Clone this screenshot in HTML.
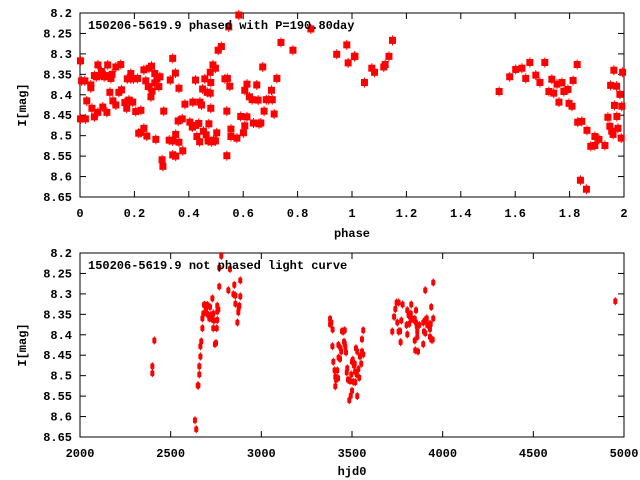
<!DOCTYPE html>
<html><head><meta charset="utf-8"><style>
html,body{margin:0;padding:0;background:#fff}
svg{display:block}
text{font-family:"Liberation Mono","DejaVu Sans Mono",monospace;font-weight:bold;font-size:12px;fill:#000}
</style></head><body>
<svg id="chart" width="640" height="480" viewBox="0 0 640 480" xmlns="http://www.w3.org/2000/svg"></svg>
<script>
const phaseVals=[0.000,0.004,0.016,0.000,0.018,0.023,0.038,0.038,0.042,0.051,0.051,0.058,0.064,0.064,0.070,0.077,0.082,0.087,0.092,0.097,0.100,0.108,0.112,0.116,0.119,0.130,0.130,0.141,0.148,0.151,0.163,0.170,0.172,0.178,0.185,0.185,0.192,0.195,0.203,0.210,0.214,0.222,0.222,0.233,0.233,0.240,0.244,0.249,0.252,0.259,0.261,0.263,0.273,0.273,0.277,0.281,0.288,0.292,0.300,0.303,0.306,0.326,0.330,0.339,0.339,0.339,0.349,0.350,0.350,0.362,0.362,0.376,0.384,0.359,0.374,0.402,0.411,0.413,0.423,0.423,0.428,0.435,0.438,0.439,0.445,0.449,0.452,0.457,0.462,0.466,0.472,0.477,0.479,0.479,0.477,0.487,0.489,0.496,0.501,0.506,0.518,0.531,0.538,0.538,0.540,0.545,0.549,0.553,0.553,0.575,0.582,0.589,0.599,0.604,0.604,0.612,0.612,0.621,0.631,0.636,0.648,0.653,0.656,0.663,0.670,0.675,0.683,0.692,0.702,0.705,0.712,0.722,0.737,0.781,0.847,0.942,0.979,0.984,1.009,0.469,0.482,0.496,
1.007,1.044,1.071,1.081,1.115,1.120,1.134,1.147,1.539,1.578,1.600,1.623,1.637,1.652,1.674,1.689,1.707,1.722,1.733,1.740,1.752,1.759,1.770,1.777,1.792,1.796,1.807,1.811,1.826,1.828,1.843,1.838,1.860,1.862,1.876,1.891,1.891,1.906,1.928,1.939,1.946,1.953,1.958,1.961,1.949,1.971,1.972,1.963,1.976,1.983,1.988,1.990,1.993];
const phaseMags=[8.317,8.366,8.366,8.459,8.459,8.415,8.376,8.383,8.433,8.454,8.353,8.356,8.327,8.443,8.353,8.343,8.430,8.356,8.353,8.443,8.327,8.394,8.360,8.350,8.415,8.332,8.425,8.394,8.326,8.388,8.419,8.433,8.361,8.413,8.348,8.361,8.418,8.361,8.441,8.360,8.494,8.438,8.492,8.339,8.482,8.366,8.501,8.380,8.335,8.405,8.330,8.391,8.348,8.371,8.509,8.361,8.380,8.356,8.559,8.575,8.440,8.511,8.364,8.311,8.513,8.547,8.347,8.497,8.550,8.516,8.384,8.537,8.423,8.464,8.459,8.467,8.479,8.418,8.475,8.364,8.502,8.470,8.515,8.418,8.425,8.386,8.489,8.361,8.498,8.394,8.471,8.396,8.370,8.433,8.345,8.327,8.511,8.335,8.493,8.291,8.282,8.361,8.440,8.549,8.360,8.234,8.379,8.484,8.502,8.506,8.205,8.453,8.493,8.389,8.476,8.374,8.454,8.405,8.412,8.469,8.376,8.413,8.471,8.469,8.332,8.440,8.412,8.412,8.389,8.412,8.447,8.360,8.272,8.291,8.239,8.301,8.278,8.322,8.306,8.513,8.515,8.513,
8.306,8.370,8.335,8.345,8.332,8.326,8.306,8.267,8.392,8.356,8.338,8.335,8.360,8.321,8.352,8.370,8.321,8.392,8.362,8.396,8.374,8.418,8.370,8.392,8.387,8.421,8.428,8.365,8.326,8.467,8.465,8.609,8.631,8.487,8.526,8.524,8.502,8.509,8.524,8.455,8.477,8.489,8.497,8.340,8.377,8.379,8.453,8.426,8.482,8.399,8.506,8.428,8.345];
const hjdVals=[2410,2399,2399,2634,2641,2649,2653,2658,2658,2664,2664,2669,2675,2675,2680,2684,2689,2695,2699,2702,2708,2713,2717,2721,2726,2730,2735,2735,2739,2744,2750,2754,2757,2757,2757,2763,2768,2768,2779,2818,2827,2846,2851,2857,2857,2868,2873,2875,2879,2884,2884,
3379,3386,3379,3393,3392,3397,3404,3408,3412,3408,3419,3423,3425,3426,3434,3437,3441,3445,3452,3456,3460,3460,3463,3467,3471,3474,3478,3485,3489,3493,3496,3500,3500,3504,3507,3511,3515,3517,3518,3522,3526,3529,3529,3535,3540,3544,3551,3555,3555,3562,3562,
3722,3732,3739,3746,3750,3757,3757,3765,3768,3772,3779,3801,3805,3805,3812,3816,3820,3824,3827,3831,3838,3846,3846,3849,3853,3853,3857,3860,3860,3864,3871,3893,3893,3897,3901,3904,3904,3912,3915,3926,3930,3930,3934,3937,3937,3945,3948,3948,4952];
const hjdMags=[8.414,8.477,8.494,8.609,8.631,8.524,8.524,8.497,8.477,8.453,8.428,8.416,8.384,8.360,8.348,8.327,8.327,8.335,8.348,8.327,8.352,8.360,8.332,8.352,8.361,8.311,8.348,8.384,8.365,8.423,8.420,8.384,8.329,8.343,8.364,8.338,8.282,8.236,8.207,8.291,8.239,8.301,8.278,8.304,8.324,8.370,8.345,8.335,8.329,8.267,8.306,
8.361,8.370,8.374,8.387,8.428,8.466,8.487,8.503,8.510,8.526,8.487,8.506,8.425,8.456,8.459,8.433,8.441,8.391,8.392,8.417,8.389,8.422,8.430,8.443,8.492,8.482,8.510,8.560,8.513,8.549,8.497,8.466,8.537,8.461,8.515,8.475,8.471,8.490,8.516,8.433,8.497,8.550,8.441,8.484,8.505,8.453,8.471,8.441,8.411,8.389,8.448,
8.392,8.356,8.337,8.321,8.370,8.321,8.392,8.391,8.418,8.365,8.326,8.376,8.340,8.399,8.352,8.373,8.356,8.348,8.326,8.361,8.363,8.361,8.414,8.438,8.340,8.370,8.379,8.392,8.405,8.441,8.376,8.370,8.423,8.392,8.365,8.291,8.396,8.360,8.376,8.374,8.386,8.405,8.374,8.332,8.412,8.412,8.360,8.272,8.318];
const magTicks=["8.2","8.25","8.3","8.35","8.4","8.45","8.5","8.55","8.6","8.65"];
const phaseTicks=["0","0.2","0.4","0.6","0.8","1","1.2","1.4","1.6","1.8","2"];
const hjdTicks=["2000","2500","3000","3500","4000","4500","5000"];

const NS="http://www.w3.org/2000/svg";
const svg=document.getElementById('chart');
function mk(tag,attrs,parent){const e=document.createElementNS(NS,tag);for(const k in attrs)e.setAttribute(k,attrs[k]);(parent||svg).appendChild(e);return e;}
const L=80,R=624;
const panels=[
 {top:13,bot:197,xmin:0,xmax:2,xt:phaseTicks,xs:phaseVals,ys:phaseMags,title:"150206-5619.9 phased with P=190.80day",xl:"phase",xly:237,name:"phased"},
 {top:253,bot:437,xmin:2000,xmax:5000,xt:hjdTicks,xs:hjdVals,ys:hjdMags,title:"150206-5619.9 not phased light curve",xl:"hjd0",xly:475,name:"unphased"}
];
panels.forEach(p=>{
 const g=mk('g',{});
 
 
 const sx=v=>L+(v-p.xmin)/(p.xmax-p.xmin)*(R-L);
 const sy=v=>p.top+(v-8.2)/0.45*(p.bot-p.top);
 magTicks.forEach(t=>{
  const y=sy(parseFloat(t));
  mk('line',{x1:L,x2:L+6,y1:y,y2:y,stroke:'#000'},g);
  mk('line',{x1:R-6,x2:R,y1:y,y2:y,stroke:'#000'},g);
  const tx=mk('text',{x:72,y:y+4,'text-anchor':'end'},g);tx.textContent=t;
  
  
 });
 p.xt.forEach(t=>{
  const x=sx(parseFloat(t));
  mk('line',{x1:x,x2:x,y1:p.bot,y2:p.bot-6,stroke:'#000'},g);
  mk('line',{x1:x,x2:x,y1:p.top,y2:p.top+6,stroke:'#000'},g);
  const tx=mk('text',{x:x,y:p.bot+20,'text-anchor':'middle'},g);tx.textContent=t;
  
  
 });
 const fr=mk('rect',{x:L,y:p.top,width:R-L,height:p.bot-p.top,fill:'none',stroke:'#000'},g);
 
 
 const pts=mk('g',{fill:'#f00',stroke:'#f00'},g);
 
 
 p.xs.forEach((xv,i)=>{
  const x=sx(xv),y=sy(p.ys[i]);
  if(p.name==='phased'){
   const r=mk('rect',{x:x-3,y:y-3.5,width:7,height:7,stroke:'none'},pts);
   
   
   mk('line',{x1:x+0.5,x2:x+0.5,y1:y-5,y2:y+5,'stroke-width':1},pts);
  }else{
   const r=mk('rect',{x:x-2,y:y-3,width:4,height:6,rx:1.5,stroke:'none'},pts);
   
   
   mk('line',{x1:x,x2:x,y1:y-4,y2:y+4,'stroke-width':1},pts);
  }
 });
 const ti=mk('text',{x:88,y:p.top+16},g);ti.textContent=p.title;
 
 
 const xl=mk('text',{x:(L+R)/2,y:p.xly,'text-anchor':'middle'},g);xl.textContent=p.xl;
 
 
 const cy=(p.top+p.bot)/2;
 const yl=mk('text',{x:26,y:cy,'text-anchor':'middle',transform:'rotate(-90 26 '+cy+')'},g);yl.textContent="I[mag]";
 
 
});
</script>
</body></html>
